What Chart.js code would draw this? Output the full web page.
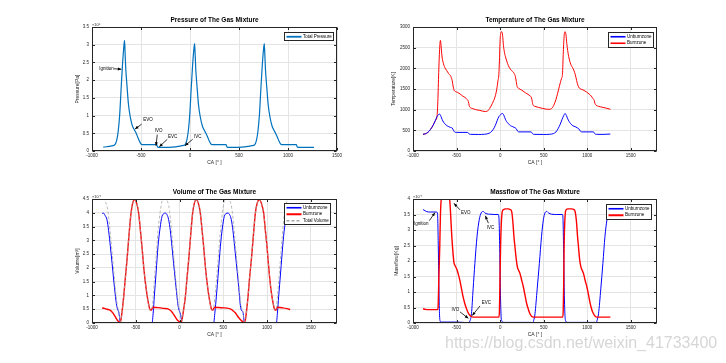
<!DOCTYPE html>
<html>
<head>
<meta charset="utf-8">
<script src="https://cdn.jsdelivr.net/npm/chart.js@4.4.1/dist/chart.umd.min.js"></script>
<style>
  body { margin: 0; background: #fff; }
  #fig { position: relative; width: 726px; height: 363px; overflow: hidden; background: #fff; }
  #fig canvas { position: absolute; }
  #mark { position: absolute; left: 445px; top: 335px; font: 16px/16px "Liberation Sans", Arial, sans-serif;
          color: rgba(165,165,165,0.45); white-space: nowrap; }
</style>
</head>
<body>
<div id="fig">
  <canvas id="cPress" width="363" height="181" style="left:0;top:0"></canvas>
  <canvas id="cTemp" width="363" height="181" style="left:363px;top:0"></canvas>
  <canvas id="cVol" width="363" height="182" style="left:0;top:181px"></canvas>
  <canvas id="cMass" width="363" height="182" style="left:363px;top:181px"></canvas>
  <div id="mark">https://blog.csdn.net/weixin_41733400</div>
</div>
<script>
// CA tick labels shared by all four axes
const caTicks = [-1000, -500, 0, 500, 1000, 1500];

// [CA deg, value] pairs
// pressure, x10^6 Pa
const pressureTotal = [[-885,0.11],[-850,0.12],[-810,0.14],[-770,0.17],[-748,0.3],[-733,0.55],[-718,1.0],[-703,1.75],[-690,2.38],[-678,2.85],[-668,3.12],[-662,2.75],[-656,2.35],[-644,1.88],[-628,1.32],[-610,0.97],[-588,0.71],[-568,0.6],[-553,0.52],[-533,0.39],[-518,0.29],[-503,0.21],[-488,0.18],[-340,0.18],[-333,0.13],[-325,0.1],[-250,0.1],[-180,0.11],[-120,0.13],[-83,0.15],[-53,0.17],[-33,0.3],[-18,0.55],[-3,1.0],[12,1.75],[25,2.35],[37,2.8],[47,3.03],[53,2.7],[59,2.3],[71,1.85],[87,1.3],[105,0.96],[127,0.7],[147,0.58],[162,0.5],[182,0.38],[197,0.28],[212,0.2],[227,0.18],[368,0.18],[375,0.13],[383,0.1],[450,0.1],[530,0.11],[590,0.13],[630,0.15],[658,0.17],[678,0.3],[693,0.55],[708,1.0],[723,1.75],[736,2.35],[748,2.8],[758,3.03],[764,2.7],[770,2.3],[782,1.85],[798,1.3],[816,0.96],[838,0.7],[858,0.58],[873,0.5],[893,0.38],[908,0.28],[923,0.2],[938,0.18],[1085,0.18],[1092,0.13],[1100,0.1],[1265,0.1]];

// temperature, K
const tempUnburn = [[-885,405],[-860,415],[-830,450],[-800,520],[-770,620],[-745,730],[-725,830],[-705,885],[-693,892],[-680,840],[-665,760],[-650,700],[-630,650],[-610,610],[-590,590],[-570,570],[-550,555],[-535,500],[-520,455],[-500,450],[-380,450],[-365,440],[-355,410],[-340,403],[-250,400],[-180,405],[-140,420],[-110,450],[-80,520],[-55,620],[-35,730],[-15,830],[5,880],[28,908],[45,850],[60,770],[75,710],[95,660],[120,610],[145,590],[170,560],[185,540],[200,480],[215,462],[355,462],[365,440],[375,410],[390,403],[500,400],[570,405],[610,420],[640,460],[665,540],[690,650],[710,760],[730,860],[745,908],[760,860],[775,780],[790,720],[810,660],[835,610],[860,590],[885,560],[905,530],[920,480],[935,462],[1070,462],[1080,440],[1090,410],[1105,403],[1180,402],[1265,410]];
const tempBurn = [[-885,405],[-860,415],[-830,450],[-800,520],[-770,620],[-745,730],[-725,830],[-715,1200],[-705,1900],[-695,2450],[-685,2676],[-678,2550],[-668,2300],[-655,2150],[-635,2020],[-615,1950],[-590,1870],[-565,1800],[-550,1700],[-540,1570],[-530,1480],[-515,1440],[-490,1420],[-460,1380],[-430,1330],[-400,1290],[-380,1250],[-365,1200],[-355,1100],[-345,1055],[-320,1030],[-280,1000],[-240,985],[-200,965],[-170,955],[-150,960],[-120,1030],[-90,1150],[-60,1300],[-40,1480],[-25,1700],[-15,1850],[-8,2200],[0,2700],[8,2860],[18,2887],[28,2800],[38,2550],[50,2380],[65,2250],[85,2120],[105,2020],[130,1950],[160,1880],[175,1800],[185,1680],[195,1560],[210,1520],[250,1470],[290,1410],[320,1370],[345,1330],[360,1290],[368,1200],[378,1110],[400,1080],[440,1055],[490,1030],[540,1010],[570,1010],[600,1050],[630,1180],[650,1320],[670,1480],[690,1650],[705,1760],[715,1850],[725,2400],[735,2800],[745,2887],[755,2820],[765,2600],[775,2430],[790,2250],[810,2100],[835,2000],[855,1900],[870,1780],[885,1640],[900,1550],[915,1510],[950,1480],[990,1430],[1020,1380],[1045,1330],[1065,1270],[1080,1220],[1088,1150],[1100,1110],[1130,1080],[1170,1060],[1220,1035],[1265,1010]];

// volume, x10^-4 m^3
const volUnburn = [[-885,3.97],[-870,3.99],[-850,3.9],[-829,3.75],[-810,3.35],[-790,2.77],[-770,2.15],[-752,1.56],[-735,1.05],[-722,0.71],[-708,0.5],[-695,0.4],[-685,0.2],[-676,0],[-314,0],[-300,0.4],[-288,0.95],[-267,1.85],[-246,2.77],[-222,3.45],[-200,3.87],[-180,3.97],[-162,3.99],[-143,3.93],[-124,3.75],[-105,3.35],[-86,2.77],[-67,2.15],[-48,1.56],[-30,1.0],[-17,0.64],[0,0.42],[10,0.34],[20,0.15],[29,0],[390,0],[405,0.4],[421,0.95],[444,1.85],[467,2.77],[490,3.45],[512,3.87],[532,3.97],[554,3.99],[573,3.93],[592,3.75],[611,3.35],[630,2.77],[650,2.15],[669,1.56],[685,1.0],[695,0.64],[710,0.45],[726,0.38],[735,0.15],[741,0],[1107,0],[1120,0.4],[1133,0.95],[1156,1.85],[1179,2.77],[1200,3.45],[1229,3.9],[1248,3.99],[1265,3.95]];
const volBurn = [[-885,0.55],[-860,0.53],[-830,0.5],[-790,0.46],[-760,0.36],[-733,0.22],[-710,0.1],[-695,0.05],[-680,0.02],[-670,0.1],[-655,0.45],[-638,0.95],[-620,1.6],[-600,2.29],[-577,3.2],[-554,3.99],[-535,4.35],[-512,4.48],[-490,4.35],[-467,3.99],[-448,3.4],[-429,2.77],[-405,1.9],[-379,1.19],[-360,0.8],[-341,0.52],[-326,0.46],[-312,0.53],[-303,0.57],[-260,0.56],[-219,0.55],[-180,0.53],[-143,0.52],[-110,0.47],[-86,0.4],[-65,0.3],[-48,0.22],[-25,0.11],[2,0.04],[17,0.02],[30,0.15],[50,0.55],[67,0.95],[85,1.6],[105,2.29],[128,3.2],[150,3.99],[170,4.35],[192,4.48],[215,4.35],[238,3.99],[257,3.4],[276,2.77],[300,1.9],[326,1.19],[345,0.8],[364,0.52],[379,0.46],[392,0.53],[402,0.57],[450,0.56],[505,0.55],[545,0.54],[581,0.51],[610,0.45],[638,0.37],[660,0.27],[676,0.2],[700,0.11],[726,0.04],[741,0.02],[755,0.15],[770,0.55],[783,0.95],[800,1.6],[821,2.29],[845,3.2],[867,3.99],[888,4.35],[912,4.48],[935,4.35],[962,3.99],[980,3.4],[1000,2.77],[1023,1.9],[1046,1.19],[1065,0.8],[1084,0.52],[1099,0.46],[1110,0.53],[1122,0.57],[1180,0.55],[1230,0.52],[1265,0.49]];
const volTotal = [[-885,4.52],[-870,4.5],[-850,4.4],[-829,4.25],[-810,3.85],[-790,3.23],[-770,2.55],[-752,1.9],[-735,1.3],[-722,0.93],[-708,0.6],[-695,0.45],[-685,0.22],[-676,0.04],[-670,0.1],[-655,0.45],[-638,0.95],[-620,1.6],[-600,2.29],[-577,3.2],[-554,3.99],[-535,4.35],[-512,4.48],[-490,4.35],[-467,3.99],[-448,3.4],[-429,2.77],[-405,1.9],[-379,1.19],[-360,0.8],[-341,0.52],[-326,0.46],[-314,0.53],[-300,0.97],[-288,1.52],[-267,2.41],[-246,3.33],[-222,4.0],[-200,4.41],[-180,4.5],[-162,4.51],[-143,4.45],[-124,4.27],[-105,3.82],[-86,3.17],[-67,2.45],[-48,1.78],[-30,1.11],[-17,0.75],[0,0.46],[10,0.38],[20,0.2],[29,0.08],[30,0.15],[50,0.55],[67,0.95],[85,1.6],[105,2.29],[128,3.2],[150,3.99],[170,4.35],[192,4.48],[215,4.35],[238,3.99],[257,3.4],[276,2.77],[300,1.9],[326,1.19],[345,0.8],[364,0.52],[379,0.46],[390,0.53],[405,0.97],[421,1.51],[444,2.41],[467,3.33],[490,4.0],[512,4.41],[532,4.5],[554,4.52],[573,4.45],[592,4.27],[611,3.82],[630,3.17],[650,2.45],[669,1.78],[685,1.2],[695,0.84],[710,0.56],[726,0.42],[735,0.18],[741,0.05],[755,0.15],[770,0.55],[783,0.95],[800,1.6],[821,2.29],[845,3.2],[867,3.99],[888,4.35],[912,4.48],[935,4.35],[962,3.99],[980,3.4],[1000,2.77],[1023,1.9],[1046,1.19],[1065,0.8],[1084,0.52],[1099,0.46],[1107,0.53],[1120,0.97],[1133,1.5],[1156,2.4],[1179,3.32],[1200,4.0],[1229,4.42],[1248,4.52],[1265,4.45]];

// mass, x10^-4 kg
const massUnburn = [[-885,3.66],[-860,3.62],[-840,3.59],[-800,3.58],[-760,3.58],[-728,3.58],[-718,3.5],[-710,2.5],[-703,1.2],[-696,0.3],[-688,0.06],[-675,0.03],[-600,0.03],[-500,0.03],[-420,0.02],[-395,0.01],[-370,0],[-345,0.08],[-329,0.3],[-310,1.1],[-290,1.92],[-265,2.8],[-240,3.33],[-218,3.55],[-194,3.6],[-175,3.55],[-150,3.52],[-118,3.51],[-60,3.5],[-22,3.5],[-12,3.3],[-5,2.4],[3,1.0],[10,0.3],[17,0.08],[43,0.02],[200,0.02],[350,0.02],[370,0],[385,0.08],[400,0.3],[425,1.1],[450,1.92],[475,2.8],[496,3.33],[515,3.55],[534,3.6],[555,3.55],[590,3.51],[650,3.5],[715,3.5],[722,3.3],[728,2.4],[736,1.0],[743,0.3],[750,0.08],[775,0.02],[950,0.02],[1085,0.02],[1100,0],[1112,0.08],[1129,0.3],[1155,1.1],[1179,1.92],[1203,2.8],[1226,3.33],[1244,3.55],[1265,3.6]];
const massBurn = [[-885,0.46],[-860,0.44],[-810,0.43],[-760,0.43],[-720,0.43],[-712,0.5],[-703,1.5],[-693,2.46],[-685,3.5],[-675,3.98],[-665,4.0],[-590,4.0],[-578,3.95],[-570,3.6],[-559,3.0],[-545,2.4],[-530,1.95],[-521,1.87],[-494,1.71],[-463,1.38],[-440,1.05],[-425,0.84],[-405,0.62],[-386,0.46],[-367,0.33],[-348,0.25],[-330,0.21],[-310,0.19],[-200,0.19],[-14,0.19],[-8,0.4],[-3,1.2],[5,2.46],[15,3.3],[25,3.6],[36,3.65],[60,3.68],[93,3.68],[115,3.66],[132,3.6],[145,3.3],[158,2.8],[170,2.46],[185,2.05],[197,1.82],[227,1.6],[250,1.35],[266,1.17],[285,0.9],[304,0.63],[325,0.43],[342,0.3],[360,0.22],[381,0.19],[500,0.19],[718,0.19],[724,0.4],[729,1.2],[734,2.46],[742,3.3],[750,3.6],[757,3.65],[780,3.68],[822,3.68],[845,3.66],[860,3.6],[875,3.3],[888,2.8],[899,2.46],[912,2.05],[926,1.82],[956,1.6],[975,1.38],[995,1.17],[1015,0.9],[1033,0.63],[1052,0.43],[1071,0.3],[1090,0.22],[1110,0.19],[1265,0.19]];

// event labels: text anchor + arrow (data coords)
const pressureNotes = [
  { text: 'Ignition', tx: -778, ty: 2.33, align: 'right', from: [-775, 2.32], to: [-700, 2.31] },
  { text: 'EVO', tx: -477, ty: 0.87, align: 'left', from: [-493, 0.76], to: [-561, 0.62] },
  { text: 'IVO', tx: -320, ty: 0.56, align: 'center', from: [-334, 0.46], to: [-347, 0.15] },
  { text: 'EVC', tx: -224, ty: 0.41, align: 'left', from: [-232, 0.33], to: [-313, 0.12] },
  { text: 'IVC', tx: 41, ty: 0.41, align: 'left', from: [27, 0.33], to: [-51, 0.15] }
];
const massNotes = [
  { text: 'Ignition', tx: -905, ty: 3.2, align: 'center', from: [-813, 3.3], to: [-748, 3.56] },
  { text: 'EVO', tx: -449, ty: 3.56, align: 'left', from: [-461, 3.65], to: [-530, 3.86] },
  { text: 'IVC', tx: -154, ty: 3.07, align: 'left', from: [-135, 3.22], to: [-170, 3.46] },
  { text: 'IVO', tx: -469, ty: 0.44, align: 'right', from: [-461, 0.36], to: [-365, 0.15] },
  { text: 'EVC', tx: -212, ty: 0.64, align: 'left', from: [-231, 0.55], to: [-320, 0.24] }
];

const FONT = '"Liberation Sans", Arial, sans-serif';
const ink = '#262626';
Chart.defaults.font.family = FONT;

const pts = arr => arr.map(p => ({ x: p[0], y: p[1] }));

function drawArrow(ctx, x0, y0, x1, y1) {
  ctx.beginPath(); ctx.moveTo(x0, y0); ctx.lineTo(x1, y1); ctx.stroke();
  const a = Math.atan2(y1 - y0, x1 - x0), L = 3.5, w = 1.5;
  ctx.beginPath();
  ctx.moveTo(x1, y1);
  ctx.lineTo(x1 - L * Math.cos(a) + w * Math.sin(a), y1 - L * Math.sin(a) - w * Math.cos(a));
  ctx.lineTo(x1 - L * Math.cos(a) - w * Math.sin(a), y1 - L * Math.sin(a) + w * Math.cos(a));
  ctx.closePath(); ctx.fill();
}

// matlab-ish frame: box, inner ticks, title, labels, legend, notes
const matlabAxes = {
  id: 'matlabAxes',
  afterDraw(chart, args, o) {
    const { ctx, chartArea: a, scales: { x, y } } = chart;
    ctx.save();
    ctx.strokeStyle = ink; ctx.lineWidth = 1;
    const L = Math.round(a.left) + 0.5, T = Math.round(a.top) + 0.5;
    const R = Math.round(a.right) - 0.5, B = Math.round(a.bottom) - 0.5;
    ctx.strokeRect(L, T, R - L, B - T);
    ctx.beginPath();
    x.ticks.forEach(t => {
      const px = Math.round(x.getPixelForValue(t.value)) + 0.5;
      ctx.moveTo(px, T); ctx.lineTo(px, T + 2.5);
      ctx.moveTo(px, B); ctx.lineTo(px, B - 2.5);
    });
    y.ticks.forEach(t => {
      const py = Math.round(y.getPixelForValue(t.value)) + 0.5;
      ctx.moveTo(L, py); ctx.lineTo(L + 2.5, py);
      ctx.moveTo(R, py); ctx.lineTo(R - 2.5, py);
    });
    ctx.stroke();

    ctx.fillStyle = '#000';
    ctx.textAlign = 'center'; ctx.textBaseline = 'middle';
    ctx.font = `bold 6.5px ${FONT}`;
    ctx.fillText(o.title, (a.left + a.right) / 2, a.top - 7);
    ctx.fillStyle = ink;
    ctx.font = `5px ${FONT}`;
    ctx.fillText('CA [° ]', (a.left + a.right) / 2, a.bottom + 12);
    ctx.save();
    ctx.translate(a.left - o.yGap, (a.top + a.bottom) / 2);
    ctx.rotate(-Math.PI / 2);
    ctx.fillText(o.yLabel, 0, 0);
    ctx.restore();
    if (o.exponent) {
      ctx.font = `4px ${FONT}`; ctx.textAlign = 'left'; ctx.textBaseline = 'bottom';
      ctx.fillText(o.exponent, a.left, a.top - 0.5);
    }

    // annotations
    (o.notes || []).forEach(n => {
      ctx.font = `4.5px ${FONT}`; ctx.fillStyle = '#000'; ctx.strokeStyle = '#000'; ctx.lineWidth = 0.8;
      ctx.textAlign = n.align; ctx.textBaseline = 'middle';
      ctx.fillText(n.text, x.getPixelForValue(n.tx), y.getPixelForValue(n.ty));
      drawArrow(ctx, x.getPixelForValue(n.from[0]), y.getPixelForValue(n.from[1]),
                x.getPixelForValue(n.to[0]), y.getPixelForValue(n.to[1]));
    });

    // legend box
    const ds = chart.data.datasets;
    ctx.font = `4.5px ${FONT}`;
    const tw = Math.max(...ds.map(d => ctx.measureText(d.label).width));
    const rowH = 6.5, lineW = 15;
    const w = Math.round(2 + lineW + 1.5 + tw + 2), h = Math.round(ds.length * rowH + 1.5);
    const bx = Math.round(a.right - o.legendRight - w) + 0.5, by = Math.round(a.top + o.legendTop) + 0.5;
    ctx.fillStyle = '#fff'; ctx.fillRect(bx, by, w, h);
    ctx.strokeStyle = ink; ctx.lineWidth = 1; ctx.setLineDash([]);
    ctx.strokeRect(bx, by, w, h);
    ds.forEach((d, i) => {
      const cy = by + 1 + rowH * (i + 0.5);
      ctx.strokeStyle = d.borderColor; ctx.lineWidth = d.borderWidth + 0.6;
      ctx.setLineDash(d.borderDash || []);
      ctx.beginPath(); ctx.moveTo(bx + 2, cy); ctx.lineTo(bx + 2 + lineW, cy); ctx.stroke();
      ctx.setLineDash([]);
      ctx.fillStyle = '#000'; ctx.textAlign = 'left'; ctx.textBaseline = 'middle';
      ctx.fillText(d.label, bx + 2 + lineW + 1.5, cy);
    });
    ctx.restore();
  }
};

function makeChart(id, box, xMax, yMax, yStep, datasets, frame) {
  return new Chart(document.getElementById(id), {
    type: 'line',
    data: { datasets },
    options: {
      responsive: false,
      animation: false,
      events: [],
      layout: { padding: { top: box.top, right: box.right, left: 0, bottom: 0 } },
      elements: { point: { radius: 0 }, line: { cubicInterpolationMode: 'monotone' } },
      scales: {
        x: {
          type: 'linear', min: -1000, max: xMax,
          afterBuildTicks(s) { s.ticks = caTicks.map(v => ({ value: v })); },
          ticks: { autoSkip: false, maxRotation: 0,
                   font: { size: 4.5 }, color: ink, padding: 2, callback: v => String(v) },
          grid: { color: '#e4e4e4', drawTicks: false },
          border: { display: false },
          afterFit(s) { s.height = box.xH; }
        },
        y: {
          type: 'linear', min: 0, max: yMax,
          ticks: { stepSize: yStep, autoSkip: false, font: { size: 4.5 }, color: ink, padding: 3,
                   callback: v => String(v) },
          grid: { color: '#e4e4e4', drawTicks: false },
          border: { display: false },
          afterFit(s) { s.width = box.yW; }
        }
      },
      plugins: { legend: { display: false }, tooltip: { enabled: false }, matlabAxes: frame }
    },
    plugins: [matlabAxes]
  });
}

makeChart('cPress', { top: 27, right: 26, xH: 30, yW: 92 }, 1500, 3.5, 0.5, [
  { label: 'Total Pressure', data: pts(pressureTotal), borderColor: '#0072bd', borderWidth: 1.2, fill: false }
], { title: 'Pressure of The Gas Mixture', yLabel: 'Pressure[Pa]', yGap: 14, exponent: '×10⁶',
     notes: pressureNotes, legendRight: 4, legendTop: 5 });

makeChart('cTemp', { top: 27, right: 69, xH: 30, yW: 50 }, 1800, 3000, 500, [
  { label: 'Unburnzone', data: pts(tempUnburn), borderColor: '#0000ff', borderWidth: 1, fill: false, order: 1 },
  { label: 'Burnzone', data: pts(tempBurn), borderColor: '#ff0000', borderWidth: 1, fill: false, order: 2 }
], { title: 'Temperature of The Gas Mixture', yLabel: 'Temperature[K]', yGap: 19,
     legendRight: 4, legendTop: 5 });

makeChart('cVol', { top: 18, right: 26, xH: 40, yW: 92 }, 1800, 4.5, 0.5, [
  { label: 'Unburnzone', data: pts(volUnburn), borderColor: '#0000ff', borderWidth: 1, fill: false, order: 3 },
  { label: 'Burnzone', data: pts(volBurn), borderColor: '#ff0000', borderWidth: 1.4, fill: false, order: 2 },
  { label: 'Total Volume', data: pts(volTotal), borderColor: '#a6a6a6', borderWidth: 0.8, borderDash: [3, 2], fill: false, order: 1 }
], { title: 'Volume of The Gas Mixture', yLabel: 'Volume[m³]', yGap: 14, exponent: '×10⁻⁴',
     legendRight: 7, legendTop: 4 });

makeChart('cMass', { top: 18, right: 69, xH: 40, yW: 50 }, 1800, 4, 0.5, [
  { label: 'Unburnzone', data: pts(massUnburn), borderColor: '#0000ff', borderWidth: 1, fill: false, order: 2 },
  { label: 'Burnzone', data: pts(massBurn), borderColor: '#ff0000', borderWidth: 1.4, fill: false, order: 1 }
], { title: 'Massflow of The Gas Mixture', yLabel: 'Massflow[Kg]', yGap: 16, exponent: '×10⁻⁴',
     notes: massNotes, legendRight: 6, legendTop: 5 });
</script>
</body>
</html>
